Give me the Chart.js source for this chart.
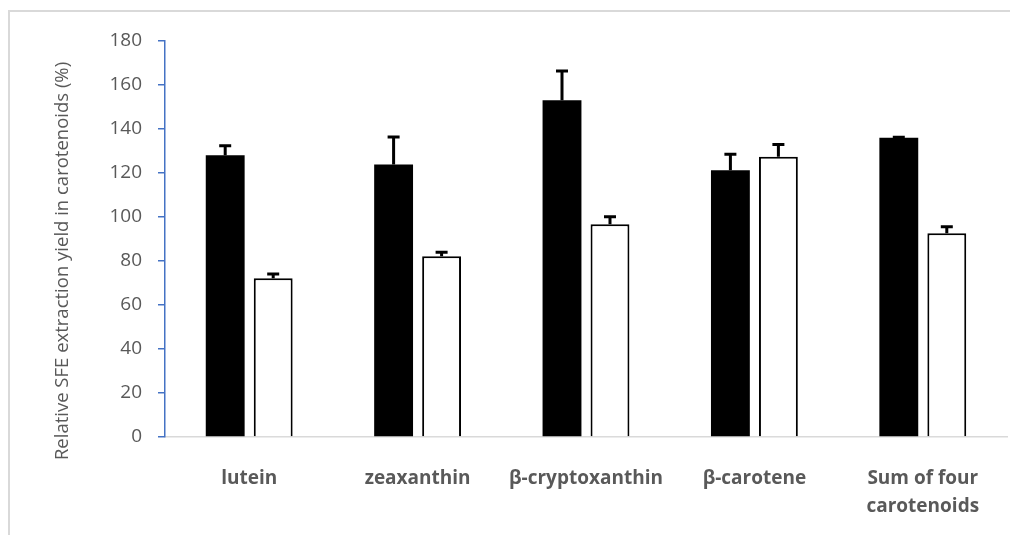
<!DOCTYPE html>
<html>
<head>
<meta charset="utf-8">
<script src="https://cdn.jsdelivr.net/npm/chart.js@4/dist/chart.umd.min.js"></script>
<style>
  html, body { margin: 0; padding: 0; background: #fff; overflow: hidden; }
  #wrap { position: relative; width: 1010px; height: 535px; }
  #frame { position: absolute; left: 8px; top: 10px; width: 1100px; height: 600px; border: 2px solid #d9d9d9; box-sizing: border-box; }
  canvas { position: absolute; left: 0; top: 0; }
</style>
</head>
<body>
<div id="wrap">
  <div id="frame"></div>
  <canvas id="chart" width="1010" height="535"></canvas>
</div>
<script>
const categories = ['lutein', 'zeaxanthin', 'β-cryptoxanthin', 'β-carotene', ['Sum of four', 'carotenoids']];
const blackValues = [128.1, 123.9, 153.1, 121.3, 136.0];
const blackErrors = [4.3, 12.5, 13.3, 7.2, 0.3];
const whiteValues = [72.2, 82.2, 96.7, 127.4, 92.6];
const whiteErrors = [1.9, 1.8, 3.4, 5.6, 3.0];
const yTitle = 'Relative SFE extraction yield in carotenoids (%)';

const FONT = '"Open Sans", sans-serif';
const TEXT = '#595959';

// upper error whiskers: stem from bar top plus a short cap
const errorBars = {
  id: 'errorBars',
  afterDatasetsDraw(chart) {
    const { ctx, scales: { y } } = chart;
    ctx.save();
    ctx.strokeStyle = '#000';
    ctx.lineWidth = 3;
    chart.data.datasets.forEach((ds, i) => {
      chart.getDatasetMeta(i).data.forEach((bar, j) => {
        const top = y.getPixelForValue(ds.data[j] + ds.errors[j]);
        const x = bar.x;
        ctx.beginPath();
        ctx.moveTo(x, bar.y);
        ctx.lineTo(x, top);
        ctx.moveTo(x - 6, top);
        ctx.lineTo(x + 6, top);
        ctx.stroke();
      });
    });
    ctx.restore();
  }
};

// rotated y-axis caption
const yCaption = {
  id: 'yCaption',
  afterDraw(chart) {
    const { ctx } = chart;
    ctx.save();
    ctx.translate(63, 261);
    ctx.rotate(-Math.PI / 2);
    ctx.fillStyle = TEXT;
    ctx.font = '18.5px ' + FONT;
    ctx.textAlign = 'center';
    ctx.textBaseline = 'middle';
    ctx.fillText(yTitle, 0, 0);
    ctx.restore();
  }
};

new Chart(document.getElementById('chart'), {
  type: 'bar',
  data: {
    labels: categories,
    datasets: [
      { data: blackValues, errors: blackErrors, backgroundColor: '#000', borderColor: '#000', borderWidth: 0 },
      { data: whiteValues, errors: whiteErrors, backgroundColor: '#fff', borderColor: '#000', borderWidth: 2 }
    ]
  },
  options: {
    responsive: false,
    animation: false,
    layout: { padding: { top: 41, right: 3, left: 0, bottom: 0 } },
    datasets: { bar: { categoryPercentage: 0.57, barPercentage: 0.81 } },
    plugins: { legend: { display: false }, tooltip: { enabled: false } },
    scales: {
      x: {
        grid: { display: false, drawTicks: false },
        border: { color: '#d9d9d9', width: 1.5 },
        ticks: { color: TEXT, font: { family: FONT, size: 19, weight: 'bold', lineHeight: 1.47 }, padding: 28, maxRotation: 0, autoSkip: false },
        afterFit(s) { s.height = 98; }
      },
      y: {
        min: 0, max: 180,
        ticks: { stepSize: 20, color: TEXT, font: { family: FONT, size: 19 }, padding: 16 },
        grid: { drawOnChartArea: false, color: '#4472c4', tickLength: 7, lineWidth: 1.5 },
        border: { color: '#4472c4', width: 1.5 },
        afterFit(s) { s.width = 165; }
      }
    }
  },
  plugins: [errorBars, yCaption]
});
</script>
</body>
</html>
